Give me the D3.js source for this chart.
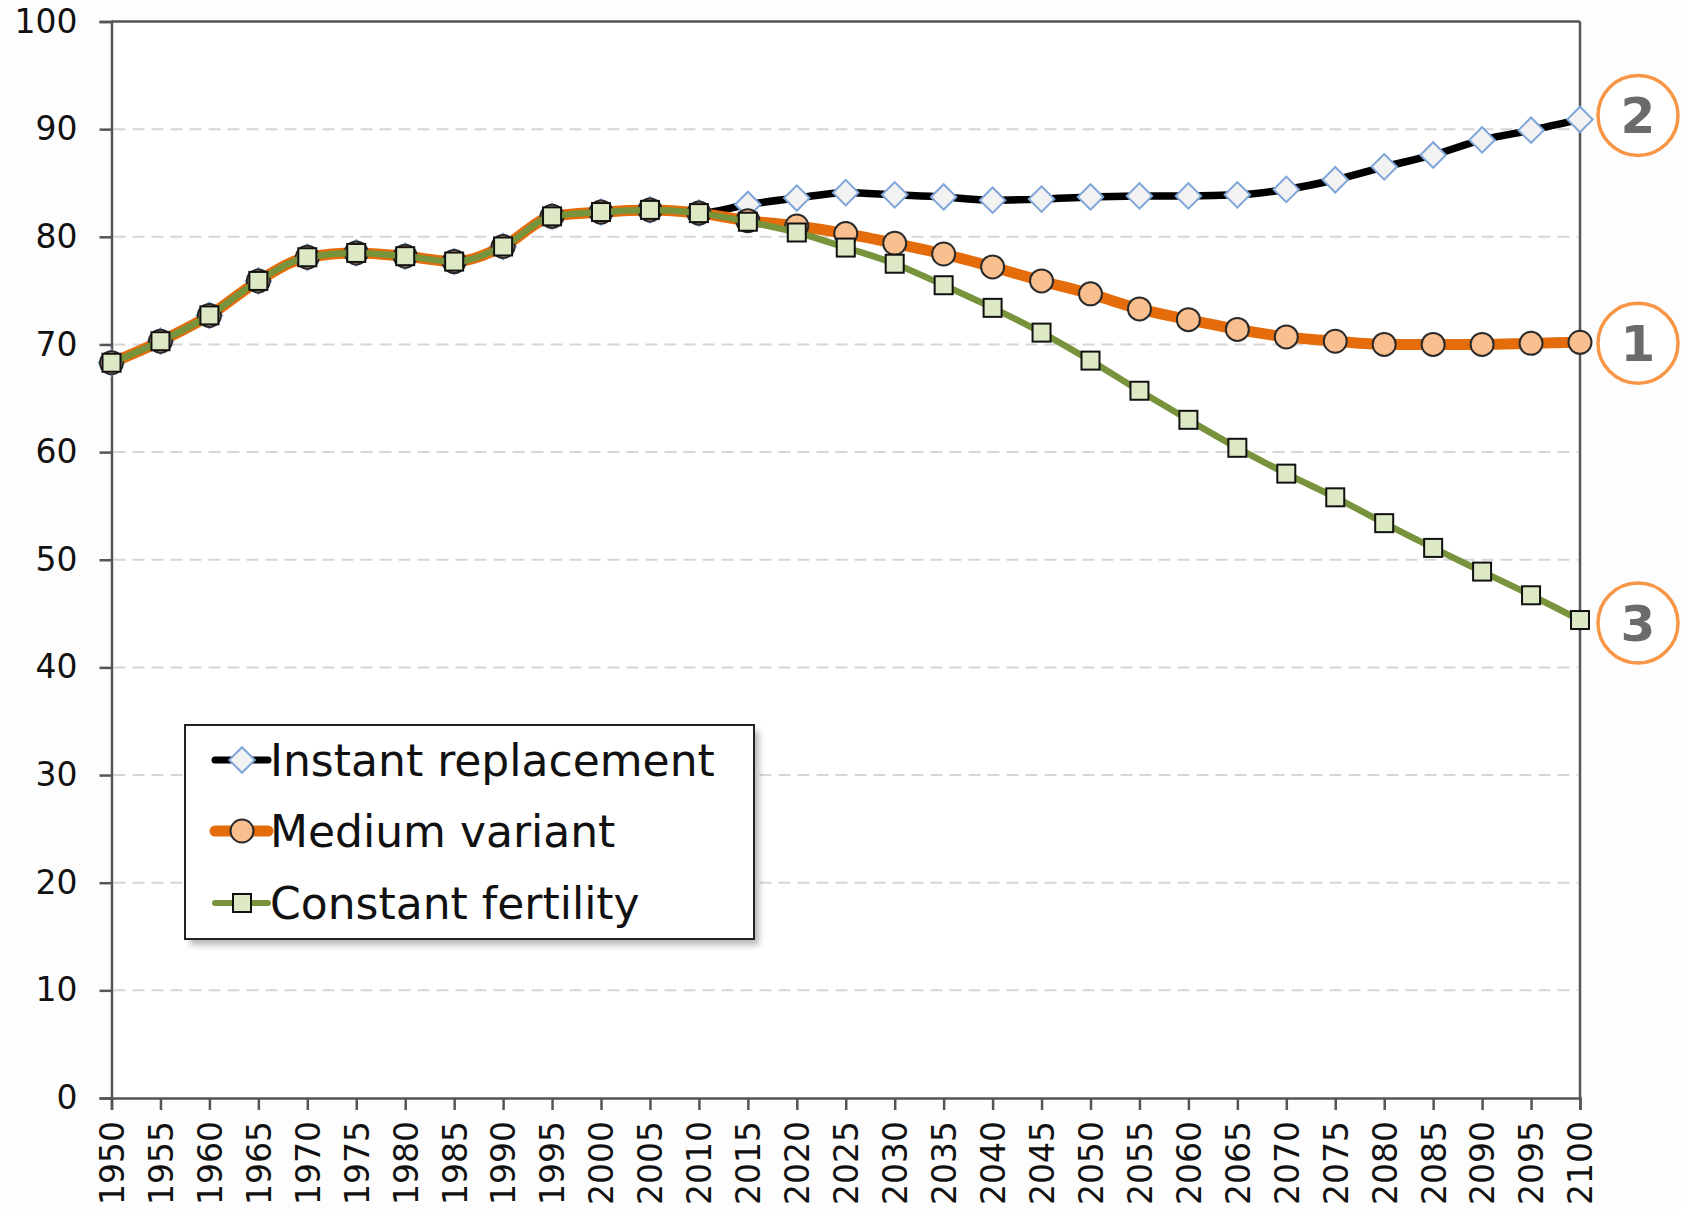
<!DOCTYPE html>
<html><head><meta charset="utf-8">
<script src="https://cdn.jsdelivr.net/npm/d3@7"></script>
<style>
html,body{margin:0;padding:0;background:#fff;}
svg{display:block;}
</style></head>
<body>
<svg id="chart" width="1681" height="1210"></svg>
<script>
const years = [1950,1955,1960,1965,1970,1975,1980,1985,1990,1995,2000,2005,2010,2015,2020,2025,2030,2035,2040,2045,2050,2055,2060,2065,2070,2075,2080,2085,2090,2095,2100];
const historyVals = [68.3,70.3,72.7,75.9,78.1,78.5,78.2,77.7,79.1,81.9,82.3,82.5,82.2];
const instantFuture = [83.0,83.6,84.1,83.9,83.7,83.4,83.5,83.7,83.8,83.8,83.9,84.4,85.3,86.5,87.6,89.0,89.9,90.9];
const mediumFuture = [81.5,81.0,80.3,79.4,78.4,77.2,75.9,74.7,73.3,72.3,71.4,70.7,70.3,70.0,70.0,70.0,70.1,70.2];
const constantFuture = [81.4,80.4,79.0,77.5,75.5,73.4,71.1,68.5,65.7,63.0,60.4,58.0,55.8,53.4,51.1,48.9,46.7,44.4];
const seriesNames = ["Instant replacement","Medium variant","Constant fertility"];
const yTicks = [0,10,20,30,40,50,60,70,80,90,100];
const gridTicks = [10,20,30,40,50,60,70,80,90];
const endLabels = ["2","1","3"];

const instantVals = historyVals.concat(instantFuture);
const mediumVals = historyVals.concat(mediumFuture);
const constantVals = historyVals.concat(constantFuture);

const svg = d3.select("#chart");
const pL = 111.5, pR = 1580, pT = 21.5, pB = 1098;
const x = d3.scaleLinear().domain([1950,2100]).range([pL,pR]);
const y = d3.scaleLinear().domain([0,100]).range([pB,pT]);
const FONT = "'DejaVu Sans', Verdana, sans-serif";

svg.append("rect").attr("x",0).attr("y",0).attr("width",1681).attr("height",1210).attr("fill","#fdfdfd");
svg.append("rect").attr("x",pL).attr("y",pT).attr("width",pR-pL).attr("height",pB-pT).attr("fill","#ffffff");

svg.append("g").selectAll("line").data(gridTicks).join("line")
  .attr("x1",pL+2).attr("x2",pR-2)
  .attr("y1",d=>y(d)).attr("y2",d=>y(d))
  .attr("stroke","#d6d6d6").attr("stroke-width",2).attr("stroke-dasharray","12,7");

svg.append("line").attr("x1",pL).attr("x2",pR).attr("y1",y(100)).attr("y2",y(100)).attr("stroke","#555").attr("stroke-width",2.5);
svg.append("line").attr("x1",pR).attr("x2",pR).attr("y1",y(100)).attr("y2",y(0)).attr("stroke","#555").attr("stroke-width",2.5);

const yAxis = svg.append("g").attr("transform",`translate(${pL},0)`)
  .call(d3.axisLeft(y).tickValues(yTicks).tickSize(12).tickPadding(22).tickFormat(d3.format("d")));
yAxis.select(".domain").attr("stroke","#555").attr("stroke-width",2.5);
yAxis.selectAll(".tick line").attr("stroke","#555").attr("stroke-width",2.5);
yAxis.selectAll("text").attr("font-family",FONT).attr("font-size",33).attr("fill","#111");

const xAxis = svg.append("g").attr("transform",`translate(0,${pB})`)
  .call(d3.axisBottom(x).tickValues(years).tickSize(12).tickFormat(d3.format("d")));
xAxis.select(".domain").attr("stroke","#555").attr("stroke-width",2.5);
xAxis.selectAll(".tick line").attr("stroke","#555").attr("stroke-width",2.5);
xAxis.selectAll("text")
  .attr("font-family",FONT).attr("font-size",33).attr("fill","#111")
  .attr("transform","rotate(-90)").attr("text-anchor","end")
  .attr("x",-23).attr("y",0).attr("dy","0.36em");

const line = d3.line().x((d,i)=>x(years[i])).y(d=>y(d)).curve(d3.curveMonotoneX);

const g = svg.append("g");
g.append("path").datum(instantVals).attr("d",line).attr("fill","none").attr("stroke","#000").attr("stroke-width",7.5);
g.selectAll(".dia").data(instantVals).join("path").attr("class","dia")
  .attr("transform",(d,i)=>`translate(${x(years[i])},${y(d)}) rotate(45)`)
  .attr("d","M-9,-9H9V9H-9Z").attr("fill","#f2f2f2").attr("stroke","#7ea6d9").attr("stroke-width",2);

g.append("path").datum(mediumVals).attr("d",line).attr("fill","none").attr("stroke","#e46c0a").attr("stroke-width",11);
g.selectAll(".cir").data(mediumVals).join("circle").attr("class","cir")
  .attr("cx",(d,i)=>x(years[i])).attr("cy",d=>y(d)).attr("r",11.5)
  .attr("fill","#f9bf8f").attr("stroke","#2a2a2a").attr("stroke-width",2);

g.append("path").datum(constantVals).attr("d",line).attr("fill","none").attr("stroke","#77933c").attr("stroke-width",6.5);
g.selectAll(".sq").data(constantVals).join("rect").attr("class","sq")
  .attr("x",(d,i)=>x(years[i])-9).attr("y",d=>y(d)-9).attr("width",18).attr("height",18)
  .attr("fill","#dde9c5").attr("stroke","#111").attr("stroke-width",2);

const endVals = [instantVals[instantVals.length-1], mediumVals[mediumVals.length-1], constantVals[constantVals.length-1]];
const endOffsets = [-4, 1, 3];
const eg = svg.append("g");
endVals.forEach((v,i)=>{
  const cx = 1638, cy = y(v) + endOffsets[i];
  eg.append("circle").attr("cx",cx).attr("cy",cy).attr("r",40).attr("fill","#fff").attr("stroke","#f79646").attr("stroke-width",3.5);
  eg.append("text").attr("x",cx).attr("y",cy).attr("dy","0.36em").attr("text-anchor","middle")
    .attr("font-family",FONT).attr("font-weight","bold").attr("font-size",50).attr("fill","#6b6b6b").text(endLabels[i]);
});

const defs = svg.append("defs");
const f = defs.append("filter").attr("id","sh").attr("x","-10%").attr("y","-10%").attr("width","130%").attr("height","130%");
f.append("feGaussianBlur").attr("stdDeviation",3);
const lx = 185, ly = 725, lw = 569, lh = 214;
svg.append("rect").attr("x",lx+5).attr("y",ly+6).attr("width",lw).attr("height",lh).attr("fill","#888").attr("opacity",0.6).attr("filter","url(#sh)");
svg.append("rect").attr("x",lx).attr("y",ly).attr("width",lw).attr("height",lh).attr("fill","#fff").attr("stroke","#222").attr("stroke-width",2);
const legendStyles = [
  {stroke:"#000", sw:7, marker:"diamond"},
  {stroke:"#e46c0a", sw:11, marker:"circle"},
  {stroke:"#77933c", sw:6, marker:"square"}
];
const rowBase = [776, 847, 919];
seriesNames.forEach((name,i)=>{
  const st = legendStyles[i], cy = rowBase[i] - 16;
  svg.append("line").attr("x1",215).attr("x2",268).attr("y1",cy).attr("y2",cy).attr("stroke",st.stroke).attr("stroke-width",st.sw).attr("stroke-linecap","round");
  if(st.marker==="diamond"){
    svg.append("path").attr("transform",`translate(242,${cy}) rotate(45)`).attr("d","M-9,-9H9V9H-9Z").attr("fill","#f2f2f2").attr("stroke","#7ea6d9").attr("stroke-width",2);
  } else if(st.marker==="circle"){
    svg.append("circle").attr("cx",242).attr("cy",cy).attr("r",11.5).attr("fill","#f9bf8f").attr("stroke","#2a2a2a").attr("stroke-width",2);
  } else {
    svg.append("rect").attr("x",233).attr("y",cy-9).attr("width",18).attr("height",18).attr("fill","#dde9c5").attr("stroke","#111").attr("stroke-width",2);
  }
  svg.append("text").attr("x",270).attr("y",rowBase[i])
    .attr("font-family",FONT).attr("font-size",44).attr("fill","#111").text(name);
});
</script>
</body></html>
